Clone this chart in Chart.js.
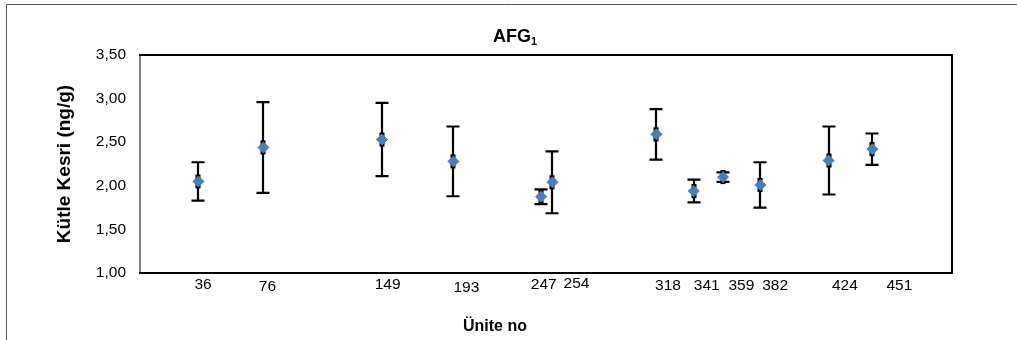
<!DOCTYPE html>
<html>
<head>
<meta charset="utf-8">
<script src="https://cdn.jsdelivr.net/npm/chart.js@4/dist/chart.umd.min.js"></script>
<style>
  html, body { margin: 0; padding: 0; background: #fff; }
  #wrap { width: 1017px; height: 340px; }
</style>
</head>
<body>
<div id="wrap"><canvas id="afg-chart" width="1017" height="340"></canvas></div>
<script>
// AFG1 mass fraction per unit, mean with +/- deviation
const units = [36, 76, 149, 193, 247, 254, 318, 341, 359, 382, 424, 451];
const means = [2.05, 2.44, 2.53, 2.28, 1.875, 2.04, 2.59, 1.94, 2.10, 2.01, 2.29, 2.42];
const devs  = [0.22, 0.52, 0.42, 0.40, 0.085, 0.355, 0.29, 0.13, 0.055, 0.26, 0.39, 0.18];
const yTicks = [1.0, 1.5, 2.0, 2.5, 3.0, 3.5];

// unit labels sit a little to the right of each point (px nudges)
const labelDx = [4.6, 4, 5.6, 13, 2.6, 24, 11.6, 13, 18.4, 14.7, 16.3, 27];
const labelDy = [0, 2, 0, 3, 0, -1, 1, 1, 1, 1, 1, 1];

const FONT = "'Liberation Sans', Arial, sans-serif";

const points = units.map((u, i) => ({ x: u, y: means[i] }));

const framePlugin = {
    id: 'frame',
    beforeDraw(chart) {
        const ctx = chart.ctx;
        ctx.save();
        ctx.fillStyle = '#fff';
        ctx.fillRect(0, 0, chart.width, chart.height);
        ctx.strokeStyle = '#595959';
        ctx.lineWidth = 1;
        ctx.beginPath();
        ctx.moveTo(6.5, chart.height);
        ctx.lineTo(6.5, 4.5);
        ctx.lineTo(chart.width, 4.5);
        ctx.stroke();
        ctx.restore();
    },
    beforeDatasetsDraw(chart) {
        const { ctx, chartArea: a } = chart;
        ctx.save();
        ctx.lineWidth = 2;
        ctx.strokeStyle = '#808080';
        ctx.beginPath();
        ctx.moveTo(a.left, a.top);
        ctx.lineTo(a.left, a.bottom);
        ctx.stroke();
        ctx.strokeStyle = '#000';
        ctx.beginPath();
        ctx.moveTo(a.left - 1, a.top);
        ctx.lineTo(a.right, a.top);
        ctx.lineTo(a.right, a.bottom);
        ctx.lineTo(a.left - 1, a.bottom);
        ctx.stroke();

        // error bars under the markers
        const xs = chart.scales.x, ys = chart.scales.y;
        ctx.lineWidth = 2.2;
        units.forEach((u, i) => {
            const px = Math.round(xs.getPixelForValue(u));
            const top = ys.getPixelForValue(means[i] + devs[i]);
            const bot = ys.getPixelForValue(means[i] - devs[i]);
            ctx.beginPath();
            ctx.moveTo(px, top);
            ctx.lineTo(px, bot);
            ctx.moveTo(px - 6.5, top);
            ctx.lineTo(px + 6.5, top);
            ctx.moveTo(px - 6.5, bot);
            ctx.lineTo(px + 6.5, bot);
            ctx.stroke();
            // dark backing behind the marker
            ctx.fillStyle = '#000';
            ctx.fillRect(px - 2.5, ys.getPixelForValue(means[i]) - 7, 5, 14);
        });
        ctx.restore();
    },
    afterDraw(chart) {
        const { ctx, chartArea: a } = chart;
        const xs = chart.scales.x;
        ctx.save();
        ctx.fillStyle = '#000';
        ctx.textAlign = 'center';
        ctx.textBaseline = 'middle';

        // unit numbers under the plot
        ctx.font = '15.5px ' + FONT;
        units.forEach((u, i) => {
            ctx.fillText(String(u), xs.getPixelForValue(u) + labelDx[i], a.bottom + 12 + labelDy[i]);
        });

        // title with subscript
        ctx.font = 'bold 18px ' + FONT;
        const main = 'AFG';
        const wMain = ctx.measureText(main).width;
        ctx.font = 'bold 11px ' + FONT;
        const wSub = ctx.measureText('1').width;
        const tx = 515 - (wMain + wSub) / 2;
        ctx.textAlign = 'left';
        ctx.textBaseline = 'alphabetic';
        ctx.font = 'bold 18px ' + FONT;
        ctx.fillText(main, tx, 42);
        ctx.font = 'bold 11px ' + FONT;
        ctx.fillText('1', tx + wMain, 45);

        // x-axis title
        ctx.textAlign = 'center';
        ctx.textBaseline = 'middle';
        ctx.font = 'bold 16px ' + FONT;
        ctx.fillText('Ünite no', 495, 327);
        ctx.restore();
    }
};

new Chart(document.getElementById('afg-chart'), {
    type: 'scatter',
    data: {
        datasets: [{
            data: points,
            pointStyle: 'rectRot',
            pointRadius: 5.5,
            pointHoverRadius: 5.5,
            backgroundColor: '#4A7EBB',
            borderColor: '#4A7EBB',
            borderWidth: 1
        }]
    },
    options: {
        responsive: false,
        animation: false,
        events: [],
        layout: { padding: { top: 55, right: 65, bottom: 0, left: 0 } },
        plugins: {
            legend: { display: false },
            tooltip: { enabled: false }
        },
        scales: {
            x: {
                type: 'linear',
                min: 0,
                max: 500,
                grid: { display: false },
                border: { display: false },
                ticks: { display: false },
                afterFit(scale) { scale.height = 67; }
            },
            y: {
                min: 1,
                max: 3.5,
                grid: { display: false, drawTicks: false },
                border: { display: false },
                afterBuildTicks(scale) { scale.ticks = yTicks.map(v => ({ value: v })); },
                ticks: {
                    color: '#000',
                    padding: 14,
                    font: { family: FONT, size: 15.5 },
                    callback: v => v.toFixed(2).replace('.', ',')
                },
                title: {
                    display: true,
                    text: 'Kütle Kesri (ng/g)',
                    color: '#000',
                    font: { family: FONT, size: 19, weight: 'bold' },
                    padding: { top: 53, bottom: 0 }
                },
                afterFit(scale) { scale.width = 140; }
            }
        }
    },
    plugins: [framePlugin]
});
</script>
</body>
</html>
